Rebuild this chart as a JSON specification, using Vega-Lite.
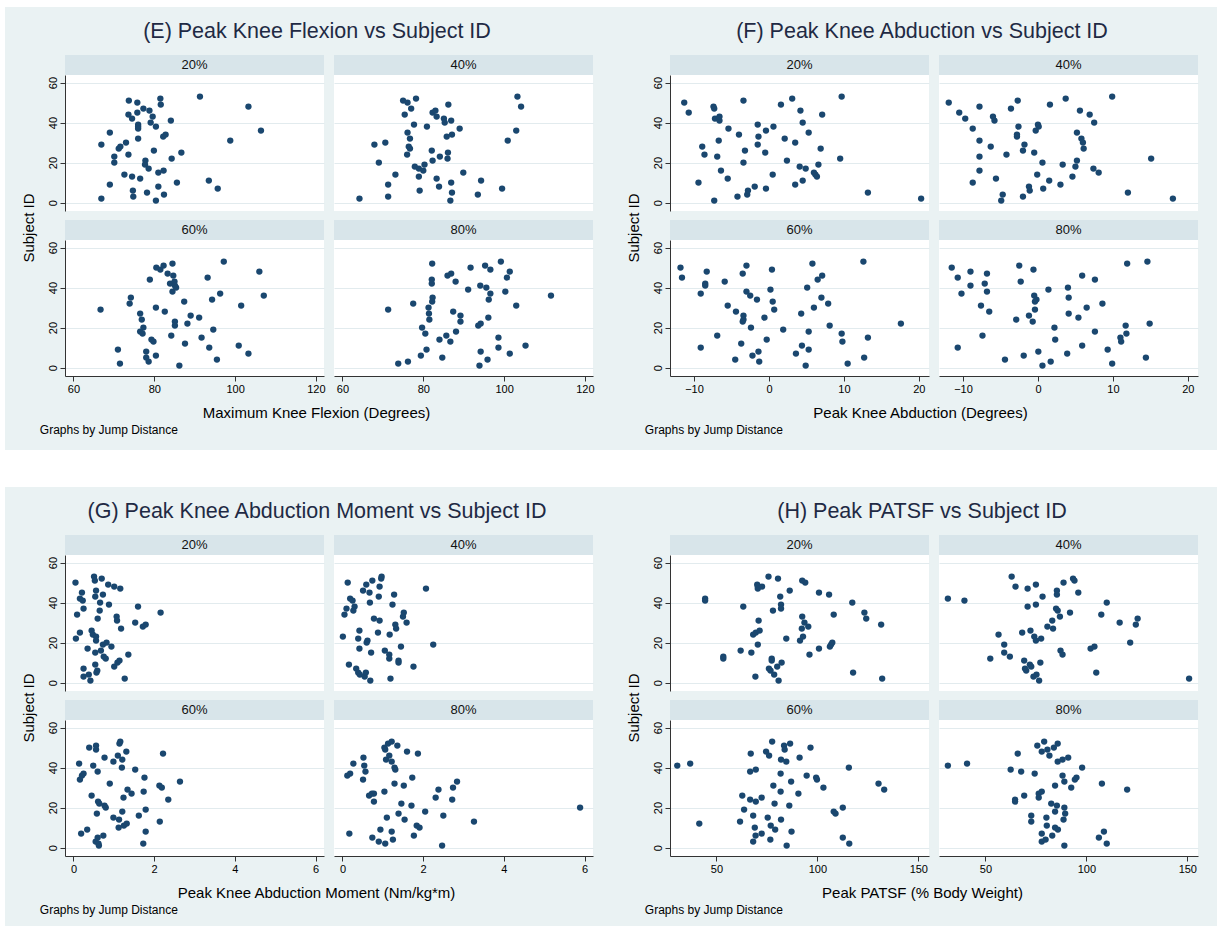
{
  "$schema": "https://vega.github.io/schema/vega-lite/v6.json",
  "background": "#EAF2F3",
  "padding": 0,
  "config": {
    "font": "Liberation Sans",
    "view": {"stroke": null},
    "axis": {
      "labelFont": "Liberation Sans", "labelFontSize": 11, "labelColor": "#000",
      "domainColor": "#333", "tickColor": "#333", "tickSize": 5, "labelPadding": 2,
      "gridColor": "#E2EBEE", "gridOpacity": 1, "titleFont": "Liberation Sans",
      "titleFontWeight": "normal", "titleColor": "#000", "labelFlush": false, "labelOverlap": false
    },
    "axisX": {"grid": false},
    "axisY": {"grid": true, "labelAngle": 270, "labelAlign": "center", "labelBaseline": "bottom"},
    "title": {"font": "Liberation Sans", "fontWeight": "normal", "color": "#1f2a44", "fontSize": 21.5}
  },
  "datasets": {
    "flex": [
      {"d":"20%","v":66.9,"id":2},{"d":"20%","v":66.9,"id":29},{"d":"20%","v":69.0,"id":35},{"d":"20%","v":70.1,"id":23},{"d":"20%","v":70.1,"id":20},{"d":"20%","v":69.0,"id":9},{"d":"20%","v":71.2,"id":27},{"d":"20%","v":71.6,"id":28},{"d":"20%","v":73.0,"id":30},{"d":"20%","v":73.6,"id":24},{"d":"20%","v":72.6,"id":14},{"d":"20%","v":73.7,"id":51},{"d":"20%","v":73.6,"id":44},{"d":"20%","v":74.5,"id":42},{"d":"20%","v":74.5,"id":13},{"d":"20%","v":74.7,"id":6},{"d":"20%","v":74.8,"id":3},{"d":"20%","v":75.8,"id":50},{"d":"20%","v":75.8,"id":45},{"d":"20%","v":76.0,"id":39},{"d":"20%","v":76.0,"id":38},{"d":"20%","v":76.0,"id":37},{"d":"20%","v":76.0,"id":32},{"d":"20%","v":76.5,"id":12},{"d":"20%","v":77.3,"id":47},{"d":"20%","v":77.8,"id":21},{"d":"20%","v":77.7,"id":19},{"d":"20%","v":78.6,"id":17},{"d":"20%","v":78.2,"id":5},{"d":"20%","v":78.8,"id":46},{"d":"20%","v":79.1,"id":40},{"d":"20%","v":79.6,"id":43},{"d":"20%","v":79.9,"id":26},{"d":"20%","v":80.4,"id":38},{"d":"20%","v":80.4,"id":1},{"d":"20%","v":81.0,"id":8},{"d":"20%","v":81.0,"id":15},{"d":"20%","v":81.5,"id":52},{"d":"20%","v":81.6,"id":49},{"d":"20%","v":82.3,"id":16},{"d":"20%","v":82.2,"id":33},{"d":"20%","v":82.8,"id":34},{"d":"20%","v":82.4,"id":4},{"d":"20%","v":84.1,"id":41},{"d":"20%","v":84.3,"id":22},{"d":"20%","v":85.6,"id":10},{"d":"20%","v":86.7,"id":25},{"d":"20%","v":91.3,"id":53},{"d":"20%","v":93.5,"id":11},{"d":"20%","v":95.7,"id":7},{"d":"20%","v":98.8,"id":31},{"d":"20%","v":103.3,"id":48},{"d":"20%","v":106.4,"id":36},
      {"d":"40%","v":64.2,"id":2},{"d":"40%","v":67.9,"id":29},{"d":"40%","v":69.0,"id":20},{"d":"40%","v":70.6,"id":30},{"d":"40%","v":71.3,"id":9},{"d":"40%","v":71.3,"id":3},{"d":"40%","v":73.1,"id":14},{"d":"40%","v":75.0,"id":51},{"d":"40%","v":76.1,"id":50},{"d":"40%","v":75.4,"id":44},{"d":"40%","v":77.0,"id":47},{"d":"40%","v":78.2,"id":52},{"d":"40%","v":76.1,"id":35},{"d":"40%","v":76.7,"id":32},{"d":"40%","v":76.4,"id":28},{"d":"40%","v":76.7,"id":27},{"d":"40%","v":76.0,"id":24},{"d":"40%","v":77.7,"id":39},{"d":"40%","v":77.9,"id":18},{"d":"40%","v":78.9,"id":17},{"d":"40%","v":78.9,"id":13},{"d":"40%","v":79.1,"id":6},{"d":"40%","v":80.0,"id":16},{"d":"40%","v":80.3,"id":19},{"d":"40%","v":80.9,"id":38},{"d":"40%","v":82.1,"id":26},{"d":"40%","v":82.3,"id":21},{"d":"40%","v":82.3,"id":45},{"d":"40%","v":83.0,"id":46},{"d":"40%","v":83.3,"id":43},{"d":"40%","v":83.3,"id":12},{"d":"40%","v":84.1,"id":23},{"d":"40%","v":83.9,"id":8},{"d":"40%","v":85.1,"id":42},{"d":"40%","v":85.3,"id":40},{"d":"40%","v":85.8,"id":33},{"d":"40%","v":86.2,"id":49},{"d":"40%","v":86.1,"id":25},{"d":"40%","v":86.0,"id":22},{"d":"40%","v":86.9,"id":41},{"d":"40%","v":87.1,"id":34},{"d":"40%","v":86.9,"id":10},{"d":"40%","v":87.1,"id":5},{"d":"40%","v":86.7,"id":1},{"d":"40%","v":89.0,"id":37},{"d":"40%","v":89.9,"id":15},{"d":"40%","v":93.5,"id":4},{"d":"40%","v":94.3,"id":11},{"d":"40%","v":99.5,"id":7},{"d":"40%","v":100.9,"id":31},{"d":"40%","v":103.0,"id":36},{"d":"40%","v":103.3,"id":53},{"d":"40%","v":104.2,"id":48},
      {"d":"60%","v":66.7,"id":29},{"d":"60%","v":71.0,"id":9},{"d":"60%","v":71.5,"id":2},{"d":"60%","v":74.2,"id":35},{"d":"60%","v":73.9,"id":32},{"d":"60%","v":76.5,"id":27},{"d":"60%","v":76.9,"id":24},{"d":"60%","v":77.3,"id":20},{"d":"60%","v":76.5,"id":18},{"d":"60%","v":77.1,"id":17},{"d":"60%","v":78.0,"id":8},{"d":"60%","v":78.0,"id":5},{"d":"60%","v":78.6,"id":3},{"d":"60%","v":78.9,"id":44},{"d":"60%","v":79.3,"id":14},{"d":"60%","v":79.8,"id":13},{"d":"60%","v":80.4,"id":30},{"d":"60%","v":80.5,"id":50},{"d":"60%","v":81.5,"id":49},{"d":"60%","v":82.3,"id":51},{"d":"60%","v":80.4,"id":6},{"d":"60%","v":82.6,"id":28},{"d":"60%","v":83.3,"id":47},{"d":"60%","v":83.9,"id":42},{"d":"60%","v":84.2,"id":16},{"d":"60%","v":84.5,"id":52},{"d":"60%","v":84.7,"id":46},{"d":"60%","v":85.0,"id":43},{"d":"60%","v":84.5,"id":38},{"d":"60%","v":85.1,"id":41},{"d":"60%","v":85.4,"id":40},{"d":"60%","v":85.1,"id":23},{"d":"60%","v":85.1,"id":21},{"d":"60%","v":86.2,"id":1},{"d":"60%","v":87.4,"id":33},{"d":"60%","v":87.6,"id":12},{"d":"60%","v":88.2,"id":22},{"d":"60%","v":89.0,"id":26},{"d":"60%","v":91.1,"id":25},{"d":"60%","v":91.7,"id":15},{"d":"60%","v":93.2,"id":45},{"d":"60%","v":93.6,"id":10},{"d":"60%","v":94.3,"id":34},{"d":"60%","v":94.6,"id":19},{"d":"60%","v":95.5,"id":4},{"d":"60%","v":96.3,"id":37},{"d":"60%","v":97.2,"id":53},{"d":"60%","v":100.9,"id":11},{"d":"60%","v":101.5,"id":31},{"d":"60%","v":103.3,"id":7},{"d":"60%","v":106.0,"id":48},{"d":"60%","v":107.1,"id":36},
      {"d":"80%","v":71.3,"id":29},{"d":"80%","v":73.8,"id":2},{"d":"80%","v":76.2,"id":3},{"d":"80%","v":77.5,"id":32},{"d":"80%","v":79.4,"id":6},{"d":"80%","v":79.7,"id":20},{"d":"80%","v":80.5,"id":17},{"d":"80%","v":80.8,"id":9},{"d":"80%","v":81.3,"id":30},{"d":"80%","v":81.4,"id":27},{"d":"80%","v":81.5,"id":24},{"d":"80%","v":82.2,"id":52},{"d":"80%","v":82.1,"id":44},{"d":"80%","v":82.1,"id":42},{"d":"80%","v":82.3,"id":35},{"d":"80%","v":82.2,"id":33},{"d":"80%","v":84.0,"id":14},{"d":"80%","v":84.7,"id":5},{"d":"80%","v":85.7,"id":16},{"d":"80%","v":86.0,"id":46},{"d":"80%","v":86.9,"id":47},{"d":"80%","v":86.7,"id":13},{"d":"80%","v":87.4,"id":28},{"d":"80%","v":88.0,"id":43},{"d":"80%","v":88.1,"id":18},{"d":"80%","v":89.2,"id":26},{"d":"80%","v":89.2,"id":23},{"d":"80%","v":91.7,"id":50},{"d":"80%","v":91.1,"id":39},{"d":"80%","v":93.6,"id":21},{"d":"80%","v":94.1,"id":41},{"d":"80%","v":94.2,"id":22},{"d":"80%","v":94.2,"id":8},{"d":"80%","v":93.9,"id":1},{"d":"80%","v":95.3,"id":51},{"d":"80%","v":95.6,"id":40},{"d":"80%","v":95.9,"id":4},{"d":"80%","v":96.1,"id":25},{"d":"80%","v":96.2,"id":34},{"d":"80%","v":96.6,"id":37},{"d":"80%","v":96.6,"id":49},{"d":"80%","v":98.6,"id":15},{"d":"80%","v":98.6,"id":10},{"d":"80%","v":99.2,"id":53},{"d":"80%","v":100.3,"id":38},{"d":"80%","v":100.7,"id":45},{"d":"80%","v":101.4,"id":48},{"d":"80%","v":101.4,"id":7},{"d":"80%","v":103.0,"id":31},{"d":"80%","v":105.3,"id":11},{"d":"80%","v":111.6,"id":36}
    ],
    "abd": [
      {"d":"20%","v":-11.3,"id":50},{"d":"20%","v":-10.7,"id":45},{"d":"20%","v":-9.4,"id":10},{"d":"20%","v":-8.9,"id":28},{"d":"20%","v":-8.6,"id":24},{"d":"20%","v":-7.4,"id":48},{"d":"20%","v":-7.3,"id":47},{"d":"20%","v":-7.2,"id":42},{"d":"20%","v":-6.7,"id":42},{"d":"20%","v":-6.6,"id":41},{"d":"20%","v":-7.3,"id":1},{"d":"20%","v":-6.9,"id":23},{"d":"20%","v":-6.7,"id":31},{"d":"20%","v":-6.6,"id":43},{"d":"20%","v":-6.4,"id":16},{"d":"20%","v":-5.5,"id":12},{"d":"20%","v":-5.4,"id":37},{"d":"20%","v":-4.2,"id":3},{"d":"20%","v":-4.0,"id":34},{"d":"20%","v":-3.4,"id":51},{"d":"20%","v":-3.4,"id":20},{"d":"20%","v":-3.2,"id":26},{"d":"20%","v":-2.9,"id":4},{"d":"20%","v":-2.8,"id":6},{"d":"20%","v":-1.9,"id":8},{"d":"20%","v":-1.5,"id":39},{"d":"20%","v":-1.5,"id":29},{"d":"20%","v":-1.4,"id":33},{"d":"20%","v":-0.5,"id":25},{"d":"20%","v":-0.4,"id":7},{"d":"20%","v":-0.4,"id":36},{"d":"20%","v":0.6,"id":38},{"d":"20%","v":0.5,"id":14},{"d":"20%","v":1.6,"id":49},{"d":"20%","v":2.1,"id":32},{"d":"20%","v":2.4,"id":21},{"d":"20%","v":3.1,"id":52},{"d":"20%","v":3.5,"id":30},{"d":"20%","v":3.5,"id":9},{"d":"20%","v":4.1,"id":18},{"d":"20%","v":4.2,"id":46},{"d":"20%","v":4.5,"id":40},{"d":"20%","v":4.5,"id":11},{"d":"20%","v":4.9,"id":17},{"d":"20%","v":5.3,"id":35},{"d":"20%","v":6.0,"id":15},{"d":"20%","v":6.2,"id":14},{"d":"20%","v":6.4,"id":13},{"d":"20%","v":6.6,"id":19},{"d":"20%","v":6.9,"id":27},{"d":"20%","v":7.1,"id":44},{"d":"20%","v":9.5,"id":22},{"d":"20%","v":9.7,"id":53},{"d":"20%","v":13.2,"id":5},{"d":"20%","v":20.3,"id":2},
      {"d":"40%","v":-11.9,"id":50},{"d":"40%","v":-10.5,"id":45},{"d":"40%","v":-9.7,"id":42},{"d":"40%","v":-8.7,"id":37},{"d":"40%","v":-8.7,"id":10},{"d":"40%","v":-7.8,"id":48},{"d":"40%","v":-7.8,"id":31},{"d":"40%","v":-7.8,"id":23},{"d":"40%","v":-7.8,"id":16},{"d":"40%","v":-6.3,"id":28},{"d":"40%","v":-6.0,"id":43},{"d":"40%","v":-5.8,"id":41},{"d":"40%","v":-5.6,"id":12},{"d":"40%","v":-4.7,"id":4},{"d":"40%","v":-4.9,"id":1},{"d":"40%","v":-4.2,"id":24},{"d":"40%","v":-3.6,"id":47},{"d":"40%","v":-2.7,"id":51},{"d":"40%","v":-2.8,"id":33},{"d":"40%","v":-2.8,"id":34},{"d":"40%","v":-2.6,"id":38},{"d":"40%","v":-2.0,"id":3},{"d":"40%","v":-2.0,"id":26},{"d":"40%","v":-1.8,"id":29},{"d":"40%","v":-1.2,"id":8},{"d":"40%","v":-1.1,"id":6},{"d":"40%","v":-0.5,"id":25},{"d":"40%","v":-0.3,"id":36},{"d":"40%","v":0.0,"id":39},{"d":"40%","v":0.1,"id":38},{"d":"40%","v":-0.1,"id":14},{"d":"40%","v":0.6,"id":20},{"d":"40%","v":0.7,"id":7},{"d":"40%","v":1.5,"id":11},{"d":"40%","v":1.6,"id":49},{"d":"40%","v":3.0,"id":9},{"d":"40%","v":3.3,"id":19},{"d":"40%","v":3.7,"id":52},{"d":"40%","v":4.6,"id":13},{"d":"40%","v":5.0,"id":18},{"d":"40%","v":5.2,"id":21},{"d":"40%","v":5.2,"id":35},{"d":"40%","v":5.6,"id":46},{"d":"40%","v":5.8,"id":32},{"d":"40%","v":6.0,"id":30},{"d":"40%","v":6.1,"id":27},{"d":"40%","v":6.9,"id":44},{"d":"40%","v":7.5,"id":40},{"d":"40%","v":7.4,"id":17},{"d":"40%","v":8.1,"id":15},{"d":"40%","v":9.9,"id":53},{"d":"40%","v":12.0,"id":5},{"d":"40%","v":15.1,"id":22},{"d":"40%","v":18.0,"id":2},
      {"d":"60%","v":-11.8,"id":50},{"d":"60%","v":-11.6,"id":45},{"d":"60%","v":-9.1,"id":10},{"d":"60%","v":-9.1,"id":37},{"d":"60%","v":-8.5,"id":42},{"d":"60%","v":-8.5,"id":41},{"d":"60%","v":-8.3,"id":48},{"d":"60%","v":-6.9,"id":16},{"d":"60%","v":-5.9,"id":43},{"d":"60%","v":-5.5,"id":31},{"d":"60%","v":-4.5,"id":4},{"d":"60%","v":-4.4,"id":28},{"d":"60%","v":-3.7,"id":12},{"d":"60%","v":-3.5,"id":47},{"d":"60%","v":-3.4,"id":26},{"d":"60%","v":-3.4,"id":24},{"d":"60%","v":-3.5,"id":23},{"d":"60%","v":-3.0,"id":51},{"d":"60%","v":-3.0,"id":38},{"d":"60%","v":-2.5,"id":36},{"d":"60%","v":-2.4,"id":20},{"d":"60%","v":-2.2,"id":6},{"d":"60%","v":-1.6,"id":34},{"d":"60%","v":-1.4,"id":8},{"d":"60%","v":-1.3,"id":3},{"d":"60%","v":-0.6,"id":25},{"d":"60%","v":-0.3,"id":14},{"d":"60%","v":0.2,"id":39},{"d":"60%","v":0.4,"id":49},{"d":"60%","v":0.5,"id":33},{"d":"60%","v":0.7,"id":29},{"d":"60%","v":1.9,"id":19},{"d":"60%","v":3.6,"id":7},{"d":"60%","v":4.3,"id":27},{"d":"60%","v":4.4,"id":11},{"d":"60%","v":4.9,"id":1},{"d":"60%","v":5.1,"id":40},{"d":"60%","v":5.3,"id":18},{"d":"60%","v":5.3,"id":9},{"d":"60%","v":5.8,"id":52},{"d":"60%","v":6.0,"id":30},{"d":"60%","v":6.5,"id":44},{"d":"60%","v":7.1,"id":46},{"d":"60%","v":7.0,"id":35},{"d":"60%","v":7.9,"id":32},{"d":"60%","v":8.1,"id":21},{"d":"60%","v":9.7,"id":17},{"d":"60%","v":9.8,"id":13},{"d":"60%","v":10.5,"id":2},{"d":"60%","v":12.6,"id":53},{"d":"60%","v":12.7,"id":5},{"d":"60%","v":13.2,"id":15},{"d":"60%","v":17.6,"id":22},
      {"d":"80%","v":-11.5,"id":50},{"d":"80%","v":-10.7,"id":45},{"d":"80%","v":-10.7,"id":10},{"d":"80%","v":-10.2,"id":37},{"d":"80%","v":-9.0,"id":48},{"d":"80%","v":-9.0,"id":41},{"d":"80%","v":-7.6,"id":31},{"d":"80%","v":-7.4,"id":16},{"d":"80%","v":-7.1,"id":42},{"d":"80%","v":-6.8,"id":47},{"d":"80%","v":-6.8,"id":38},{"d":"80%","v":-6.5,"id":28},{"d":"80%","v":-4.4,"id":4},{"d":"80%","v":-2.9,"id":24},{"d":"80%","v":-2.5,"id":51},{"d":"80%","v":-2.3,"id":43},{"d":"80%","v":-1.9,"id":6},{"d":"80%","v":-1.2,"id":26},{"d":"80%","v":-0.7,"id":23},{"d":"80%","v":-0.6,"id":49},{"d":"80%","v":-0.4,"id":29},{"d":"80%","v":0.05,"id":8},{"d":"80%","v":0.6,"id":1},{"d":"80%","v":-0.5,"id":36},{"d":"80%","v":-0.2,"id":34},{"d":"80%","v":-0.4,"id":33},{"d":"80%","v":1.4,"id":39},{"d":"80%","v":1.7,"id":3},{"d":"80%","v":2.2,"id":20},{"d":"80%","v":2.3,"id":14},{"d":"80%","v":4.0,"id":40},{"d":"80%","v":4.1,"id":35},{"d":"80%","v":4.1,"id":27},{"d":"80%","v":3.9,"id":7},{"d":"80%","v":5.4,"id":25},{"d":"80%","v":5.9,"id":11},{"d":"80%","v":5.9,"id":46},{"d":"80%","v":6.5,"id":30},{"d":"80%","v":7.6,"id":44},{"d":"80%","v":7.6,"id":18},{"d":"80%","v":8.6,"id":32},{"d":"80%","v":9.3,"id":9},{"d":"80%","v":9.9,"id":2},{"d":"80%","v":11.0,"id":15},{"d":"80%","v":11.1,"id":13},{"d":"80%","v":11.7,"id":21},{"d":"80%","v":11.8,"id":17},{"d":"80%","v":11.9,"id":52},{"d":"80%","v":14.4,"id":5},{"d":"80%","v":14.6,"id":53},{"d":"80%","v":14.9,"id":22}
    ],
    "mom": [
      {"d":"20%","v":0.05,"id":50},{"d":"20%","v":0.06,"id":22},{"d":"20%","v":0.09,"id":34},{"d":"20%","v":0.16,"id":25},{"d":"20%","v":0.16,"id":42},{"d":"20%","v":0.21,"id":45},{"d":"20%","v":0.23,"id":41},{"d":"20%","v":0.25,"id":37},{"d":"20%","v":0.25,"id":7},{"d":"20%","v":0.25,"id":3},{"d":"20%","v":0.35,"id":17},{"d":"20%","v":0.38,"id":4},{"d":"20%","v":0.42,"id":1},{"d":"20%","v":0.45,"id":26},{"d":"20%","v":0.48,"id":24},{"d":"20%","v":0.51,"id":53},{"d":"20%","v":0.53,"id":51},{"d":"20%","v":0.54,"id":43},{"d":"20%","v":0.56,"id":46},{"d":"20%","v":0.56,"id":23},{"d":"20%","v":0.56,"id":21},{"d":"20%","v":0.54,"id":15},{"d":"20%","v":0.54,"id":9},{"d":"20%","v":0.57,"id":5},{"d":"20%","v":0.59,"id":6},{"d":"20%","v":0.6,"id":32},{"d":"20%","v":0.65,"id":36},{"d":"20%","v":0.66,"id":40},{"d":"20%","v":0.7,"id":52},{"d":"20%","v":0.68,"id":16},{"d":"20%","v":0.73,"id":44},{"d":"20%","v":0.73,"id":19},{"d":"20%","v":0.75,"id":13},{"d":"20%","v":0.8,"id":12},{"d":"20%","v":0.82,"id":20},{"d":"20%","v":0.86,"id":49},{"d":"20%","v":0.88,"id":39},{"d":"20%","v":0.94,"id":18},{"d":"20%","v":1.01,"id":48},{"d":"20%","v":1.01,"id":8},{"d":"20%","v":1.07,"id":33},{"d":"20%","v":1.08,"id":31},{"d":"20%","v":1.09,"id":10},{"d":"20%","v":1.14,"id":11},{"d":"20%","v":1.16,"id":47},{"d":"20%","v":1.18,"id":27},{"d":"20%","v":1.27,"id":2},{"d":"20%","v":1.36,"id":14},{"d":"20%","v":1.53,"id":30},{"d":"20%","v":1.6,"id":38},{"d":"20%","v":1.72,"id":28},{"d":"20%","v":1.79,"id":29},{"d":"20%","v":2.16,"id":35},
      {"d":"40%","v":0.01,"id":23},{"d":"40%","v":0.05,"id":34},{"d":"40%","v":0.1,"id":37},{"d":"40%","v":0.13,"id":50},{"d":"40%","v":0.16,"id":9},{"d":"40%","v":0.19,"id":42},{"d":"40%","v":0.25,"id":41},{"d":"40%","v":0.3,"id":38},{"d":"40%","v":0.27,"id":36},{"d":"40%","v":0.34,"id":7},{"d":"40%","v":0.39,"id":5},{"d":"40%","v":0.42,"id":26},{"d":"40%","v":0.39,"id":22},{"d":"40%","v":0.42,"id":17},{"d":"40%","v":0.43,"id":4},{"d":"40%","v":0.51,"id":46},{"d":"40%","v":0.55,"id":3},{"d":"40%","v":0.58,"id":5},{"d":"40%","v":0.59,"id":49},{"d":"40%","v":0.62,"id":21},{"d":"40%","v":0.6,"id":20},{"d":"40%","v":0.67,"id":45},{"d":"40%","v":0.68,"id":40},{"d":"40%","v":0.69,"id":1},{"d":"40%","v":0.71,"id":15},{"d":"40%","v":0.74,"id":51},{"d":"40%","v":0.78,"id":32},{"d":"40%","v":0.88,"id":25},{"d":"40%","v":0.9,"id":43},{"d":"40%","v":0.92,"id":48},{"d":"40%","v":0.92,"id":31},{"d":"40%","v":0.96,"id":52},{"d":"40%","v":0.97,"id":53},{"d":"40%","v":1.05,"id":16},{"d":"40%","v":1.16,"id":14},{"d":"40%","v":1.16,"id":12},{"d":"40%","v":1.17,"id":24},{"d":"40%","v":1.19,"id":2},{"d":"40%","v":1.24,"id":39},{"d":"40%","v":1.28,"id":44},{"d":"40%","v":1.31,"id":29},{"d":"40%","v":1.33,"id":27},{"d":"40%","v":1.39,"id":11},{"d":"40%","v":1.39,"id":10},{"d":"40%","v":1.45,"id":18},{"d":"40%","v":1.52,"id":35},{"d":"40%","v":1.5,"id":33},{"d":"40%","v":1.59,"id":30},{"d":"40%","v":1.76,"id":8},{"d":"40%","v":2.07,"id":47},{"d":"40%","v":2.25,"id":19},
      {"d":"60%","v":0.14,"id":42},{"d":"60%","v":0.16,"id":34},{"d":"60%","v":0.21,"id":36},{"d":"60%","v":0.25,"id":37},{"d":"60%","v":0.19,"id":7},{"d":"60%","v":0.34,"id":9},{"d":"60%","v":0.39,"id":50},{"d":"60%","v":0.45,"id":26},{"d":"60%","v":0.49,"id":41},{"d":"60%","v":0.56,"id":51},{"d":"60%","v":0.56,"id":49},{"d":"60%","v":0.58,"id":17},{"d":"60%","v":0.55,"id":3},{"d":"60%","v":0.6,"id":5},{"d":"60%","v":0.6,"id":38},{"d":"60%","v":0.61,"id":23},{"d":"60%","v":0.64,"id":22},{"d":"60%","v":0.63,"id":1},{"d":"60%","v":0.62,"id":2},{"d":"60%","v":0.74,"id":6},{"d":"60%","v":0.77,"id":45},{"d":"60%","v":0.77,"id":21},{"d":"60%","v":0.8,"id":20},{"d":"60%","v":0.9,"id":32},{"d":"60%","v":0.99,"id":43},{"d":"60%","v":0.99,"id":15},{"d":"60%","v":1.1,"id":46},{"d":"60%","v":1.13,"id":14},{"d":"60%","v":1.14,"id":52},{"d":"60%","v":1.16,"id":53},{"d":"60%","v":1.12,"id":10},{"d":"60%","v":1.2,"id":40},{"d":"60%","v":1.21,"id":44},{"d":"60%","v":1.21,"id":18},{"d":"60%","v":1.24,"id":25},{"d":"60%","v":1.25,"id":11},{"d":"60%","v":1.32,"id":12},{"d":"60%","v":1.31,"id":48},{"d":"60%","v":1.34,"id":29},{"d":"60%","v":1.44,"id":27},{"d":"60%","v":1.53,"id":39},{"d":"60%","v":1.62,"id":16},{"d":"60%","v":1.73,"id":2},{"d":"60%","v":1.76,"id":35},{"d":"60%","v":1.74,"id":28},{"d":"60%","v":1.79,"id":19},{"d":"60%","v":1.79,"id":8},{"d":"60%","v":2.13,"id":31},{"d":"60%","v":2.19,"id":30},{"d":"60%","v":2.14,"id":13},{"d":"60%","v":2.22,"id":47},{"d":"60%","v":2.35,"id":24},{"d":"60%","v":2.64,"id":33},
      {"d":"80%","v":0.12,"id":36},{"d":"80%","v":0.19,"id":37},{"d":"80%","v":0.17,"id":7},{"d":"80%","v":0.27,"id":42},{"d":"80%","v":0.51,"id":34},{"d":"80%","v":0.52,"id":45},{"d":"80%","v":0.54,"id":41},{"d":"80%","v":0.57,"id":38},{"d":"80%","v":0.66,"id":26},{"d":"80%","v":0.73,"id":27},{"d":"80%","v":0.78,"id":27},{"d":"80%","v":0.78,"id":23},{"d":"80%","v":0.74,"id":5},{"d":"80%","v":0.9,"id":3},{"d":"80%","v":0.94,"id":9},{"d":"80%","v":1.04,"id":28},{"d":"80%","v":1.06,"id":2},{"d":"80%","v":1.04,"id":50},{"d":"80%","v":1.06,"id":49},{"d":"80%","v":1.08,"id":44},{"d":"80%","v":1.13,"id":52},{"d":"80%","v":1.1,"id":15},{"d":"80%","v":1.16,"id":46},{"d":"80%","v":1.22,"id":53},{"d":"80%","v":1.22,"id":8},{"d":"80%","v":1.22,"id":43},{"d":"80%","v":1.25,"id":4},{"d":"80%","v":1.31,"id":39},{"d":"80%","v":1.29,"id":40},{"d":"80%","v":1.29,"id":32},{"d":"80%","v":1.36,"id":51},{"d":"80%","v":1.39,"id":17},{"d":"80%","v":1.46,"id":22},{"d":"80%","v":1.52,"id":31},{"d":"80%","v":1.54,"id":14},{"d":"80%","v":1.6,"id":48},{"d":"80%","v":1.71,"id":21},{"d":"80%","v":1.73,"id":35},{"d":"80%","v":1.77,"id":6},{"d":"80%","v":1.84,"id":11},{"d":"80%","v":1.87,"id":47},{"d":"80%","v":1.91,"id":10},{"d":"80%","v":2.05,"id":18},{"d":"80%","v":2.31,"id":25},{"d":"80%","v":2.38,"id":29},{"d":"80%","v":2.47,"id":1},{"d":"80%","v":2.5,"id":16},{"d":"80%","v":2.72,"id":24},{"d":"80%","v":2.74,"id":30},{"d":"80%","v":2.84,"id":33},{"d":"80%","v":3.26,"id":13},{"d":"80%","v":5.89,"id":20}
    ],
    "patsf": [
      {"d":"20%","v":44.4,"id":42},{"d":"20%","v":44.4,"id":41},{"d":"20%","v":53.4,"id":13},{"d":"20%","v":53.4,"id":12},{"d":"20%","v":62.0,"id":16},{"d":"20%","v":63.3,"id":38},{"d":"20%","v":67.3,"id":15},{"d":"20%","v":68.2,"id":24},{"d":"20%","v":69.3,"id":3},{"d":"20%","v":69.5,"id":25},{"d":"20%","v":70.2,"id":49},{"d":"20%","v":70.5,"id":19},{"d":"20%","v":70.5,"id":48},{"d":"20%","v":70.5,"id":47},{"d":"20%","v":70.9,"id":31},{"d":"20%","v":71.4,"id":26},{"d":"20%","v":72.6,"id":48},{"d":"20%","v":75.8,"id":53},{"d":"20%","v":76.0,"id":7},{"d":"20%","v":76.8,"id":6},{"d":"20%","v":77.4,"id":12},{"d":"20%","v":77.4,"id":11},{"d":"20%","v":78.0,"id":36},{"d":"20%","v":78.6,"id":4},{"d":"20%","v":80.1,"id":8},{"d":"20%","v":80.5,"id":52},{"d":"20%","v":80.8,"id":1},{"d":"20%","v":81.6,"id":43},{"d":"20%","v":82.0,"id":39},{"d":"20%","v":82.0,"id":37},{"d":"20%","v":82.3,"id":10},{"d":"20%","v":84.6,"id":22},{"d":"20%","v":86.3,"id":46},{"d":"20%","v":91.4,"id":21},{"d":"20%","v":92.3,"id":27},{"d":"20%","v":92.5,"id":33},{"d":"20%","v":92.9,"id":23},{"d":"20%","v":92.5,"id":51},{"d":"20%","v":94.0,"id":50},{"d":"20%","v":93.6,"id":30},{"d":"20%","v":95.5,"id":28},{"d":"20%","v":96.1,"id":14},{"d":"20%","v":100.8,"id":17},{"d":"20%","v":100.8,"id":45},{"d":"20%","v":105.8,"id":44},{"d":"20%","v":106.2,"id":18},{"d":"20%","v":106.8,"id":19},{"d":"20%","v":107.4,"id":20},{"d":"20%","v":108.1,"id":34},{"d":"20%","v":117.3,"id":40},{"d":"20%","v":117.7,"id":5},{"d":"20%","v":123.3,"id":35},{"d":"20%","v":124.2,"id":32},{"d":"20%","v":131.6,"id":29},{"d":"20%","v":132.1,"id":2},
      {"d":"40%","v":31.4,"id":42},{"d":"40%","v":39.6,"id":41},{"d":"40%","v":52.4,"id":12},{"d":"40%","v":56.5,"id":24},{"d":"40%","v":59.3,"id":19},{"d":"40%","v":59.3,"id":15},{"d":"40%","v":62.1,"id":13},{"d":"40%","v":63.0,"id":53},{"d":"40%","v":64.9,"id":48},{"d":"40%","v":68.2,"id":25},{"d":"40%","v":69.2,"id":11},{"d":"40%","v":69.6,"id":7},{"d":"40%","v":70.2,"id":6},{"d":"40%","v":70.9,"id":38},{"d":"40%","v":70.9,"id":47},{"d":"40%","v":72.0,"id":9},{"d":"40%","v":72.3,"id":26},{"d":"40%","v":72.7,"id":8},{"d":"40%","v":73.8,"id":3},{"d":"40%","v":74.2,"id":23},{"d":"40%","v":75.0,"id":39},{"d":"40%","v":75.0,"id":49},{"d":"40%","v":75.0,"id":21},{"d":"40%","v":75.3,"id":4},{"d":"40%","v":76.6,"id":1},{"d":"40%","v":77.2,"id":10},{"d":"40%","v":77.6,"id":22},{"d":"40%","v":78.3,"id":43},{"d":"40%","v":80.7,"id":28},{"d":"40%","v":83.1,"id":31},{"d":"40%","v":83.5,"id":27},{"d":"40%","v":85.0,"id":37},{"d":"40%","v":85.4,"id":46},{"d":"40%","v":85.4,"id":44},{"d":"40%","v":85.8,"id":36},{"d":"40%","v":86.9,"id":33},{"d":"40%","v":87.2,"id":16},{"d":"40%","v":88.2,"id":14},{"d":"40%","v":88.7,"id":50},{"d":"40%","v":91.9,"id":35},{"d":"40%","v":93.4,"id":52},{"d":"40%","v":94.1,"id":51},{"d":"40%","v":96.0,"id":45},{"d":"40%","v":102.1,"id":17},{"d":"40%","v":104.0,"id":18},{"d":"40%","v":104.9,"id":5},{"d":"40%","v":107.4,"id":34},{"d":"40%","v":110.1,"id":40},{"d":"40%","v":116.5,"id":30},{"d":"40%","v":121.7,"id":20},{"d":"40%","v":124.5,"id":29},{"d":"40%","v":125.4,"id":32},{"d":"40%","v":150.9,"id":2},
      {"d":"60%","v":30.6,"id":41},{"d":"60%","v":37.0,"id":42},{"d":"60%","v":41.5,"id":12},{"d":"60%","v":61.7,"id":13},{"d":"60%","v":62.8,"id":26},{"d":"60%","v":63.7,"id":19},{"d":"60%","v":66.7,"id":24},{"d":"60%","v":67.0,"id":47},{"d":"60%","v":66.7,"id":38},{"d":"60%","v":68.2,"id":16},{"d":"60%","v":68.2,"id":3},{"d":"60%","v":69.0,"id":10},{"d":"60%","v":69.5,"id":39},{"d":"60%","v":69.5,"id":23},{"d":"60%","v":69.4,"id":6},{"d":"60%","v":72.4,"id":7},{"d":"60%","v":72.4,"id":25},{"d":"60%","v":74.6,"id":48},{"d":"60%","v":75.4,"id":15},{"d":"60%","v":76.1,"id":46},{"d":"60%","v":76.7,"id":4},{"d":"60%","v":76.9,"id":11},{"d":"60%","v":77.6,"id":53},{"d":"60%","v":78.2,"id":31},{"d":"60%","v":78.8,"id":22},{"d":"60%","v":79.1,"id":9},{"d":"60%","v":82.0,"id":44},{"d":"60%","v":81.8,"id":28},{"d":"60%","v":81.8,"id":37},{"d":"60%","v":82.0,"id":14},{"d":"60%","v":83.5,"id":51},{"d":"60%","v":83.8,"id":49},{"d":"60%","v":84.6,"id":43},{"d":"60%","v":84.8,"id":1},{"d":"60%","v":86.5,"id":52},{"d":"60%","v":86.1,"id":21},{"d":"60%","v":87.0,"id":33},{"d":"60%","v":87.2,"id":8},{"d":"60%","v":90.6,"id":27},{"d":"60%","v":91.2,"id":45},{"d":"60%","v":94.7,"id":36},{"d":"60%","v":96.6,"id":50},{"d":"60%","v":99.4,"id":35},{"d":"60%","v":99.8,"id":34},{"d":"60%","v":103.0,"id":30},{"d":"60%","v":108.1,"id":18},{"d":"60%","v":109.0,"id":17},{"d":"60%","v":112.6,"id":20},{"d":"60%","v":112.6,"id":5},{"d":"60%","v":115.6,"id":40},{"d":"60%","v":115.8,"id":2},{"d":"60%","v":130.3,"id":32},{"d":"60%","v":133.1,"id":29},
      {"d":"80%","v":31.4,"id":41},{"d":"80%","v":40.9,"id":42},{"d":"80%","v":62.5,"id":39},{"d":"80%","v":64.7,"id":24},{"d":"80%","v":64.7,"id":23},{"d":"80%","v":66.0,"id":47},{"d":"80%","v":67.7,"id":38},{"d":"80%","v":69.2,"id":26},{"d":"80%","v":72.7,"id":16},{"d":"80%","v":72.7,"id":13},{"d":"80%","v":74.4,"id":37},{"d":"80%","v":75.7,"id":51},{"d":"80%","v":76.4,"id":27},{"d":"80%","v":76.4,"id":25},{"d":"80%","v":77.9,"id":28},{"d":"80%","v":77.9,"id":48},{"d":"80%","v":77.9,"id":7},{"d":"80%","v":77.9,"id":3},{"d":"80%","v":79.1,"id":53},{"d":"80%","v":79.8,"id":4},{"d":"80%","v":80.2,"id":15},{"d":"80%","v":80.4,"id":11},{"d":"80%","v":80.7,"id":49},{"d":"80%","v":81.7,"id":46},{"d":"80%","v":82.6,"id":22},{"d":"80%","v":83.1,"id":6},{"d":"80%","v":83.9,"id":50},{"d":"80%","v":84.5,"id":31},{"d":"80%","v":84.5,"id":18},{"d":"80%","v":84.5,"id":10},{"d":"80%","v":85.4,"id":21},{"d":"80%","v":85.9,"id":9},{"d":"80%","v":85.8,"id":52},{"d":"80%","v":85.8,"id":43},{"d":"80%","v":88.2,"id":44},{"d":"80%","v":88.2,"id":36},{"d":"80%","v":89.1,"id":33},{"d":"80%","v":88.7,"id":14},{"d":"80%","v":89.1,"id":1},{"d":"80%","v":89.1,"id":20},{"d":"80%","v":89.5,"id":17},{"d":"80%","v":91.0,"id":45},{"d":"80%","v":92.5,"id":30},{"d":"80%","v":94.3,"id":34},{"d":"80%","v":95.1,"id":35},{"d":"80%","v":97.9,"id":40},{"d":"80%","v":106.2,"id":5},{"d":"80%","v":107.7,"id":32},{"d":"80%","v":108.7,"id":8},{"d":"80%","v":110.1,"id":2},{"d":"80%","v":120.2,"id":29}
    ]
  },
  "columns": 10,
  "align": "each",
  "bounds": "flush",
  "spacing": 0,
  "concat": [
    {"width": 5, "height": 7, "view": {"fill": "white", "stroke": null}, "data": {"values": []}, "mark": "point"},
    {"width": 60, "height": 7, "view": {"fill": "white", "stroke": null}, "data": {"values": []}, "mark": "point"},
    {"width": 259, "height": 7, "view": {"fill": "white", "stroke": null}, "data": {"values": []}, "mark": "point"},
    {"width": 10, "height": 7, "view": {"fill": "white", "stroke": null}, "data": {"values": []}, "mark": "point"},
    {"width": 259, "height": 7, "view": {"fill": "white", "stroke": null}, "data": {"values": []}, "mark": "point"},
    {"width": 77, "height": 7, "view": {"fill": "white", "stroke": null}, "data": {"values": []}, "mark": "point"},
    {"width": 259, "height": 7, "view": {"fill": "white", "stroke": null}, "data": {"values": []}, "mark": "point"},
    {"width": 10, "height": 7, "view": {"fill": "white", "stroke": null}, "data": {"values": []}, "mark": "point"},
    {"width": 259, "height": 7, "view": {"fill": "white", "stroke": null}, "data": {"values": []}, "mark": "point"},
    {"width": 19, "height": 7, "view": {"fill": "white", "stroke": null}, "data": {"values": []}, "mark": "point"},

    {"width": 5, "height": 48, "view": {"fill": "white", "stroke": null}, "data": {"values": []}, "mark": "point"},
    {"width": 1, "height": 1, "data": {"values": []}, "mark": "point"},
    {"width": 1, "height": 1, "data": {"values": []}, "mark": "point"},
    {"width": 1, "height": 1, "data": {"values": []}, "mark": "point"},
    {"width": 1, "height": 1, "data": {"values": []}, "mark": "point"},
    {"width": 1, "height": 1, "data": {"values": []}, "mark": "point"},
    {"width": 1, "height": 1, "data": {"values": []}, "mark": "point"},
    {"width": 1, "height": 1, "data": {"values": []}, "mark": "point"},
    {"width": 1, "height": 1, "data": {"values": []}, "mark": "point"},
    {"width": 1, "height": 1, "data": {"values": []}, "mark": "point"},

    {"width": 5, "height": 20, "view": {"fill": "white", "stroke": null}, "data": {"values": []}, "mark": "point"},
    {"width": 1, "height": 1, "data": {"values": []}, "mark": "point"},
    {"width": 259, "height": 20, "title": {"text": "(E) Peak Knee Flexion vs Subject ID", "anchor": "middle", "frame": "group", "dx": 122.5, "offset": -4, "baseline": "alphabetic"}, "view": {"fill": "#D8E5EA", "stroke": null}, "data": {"values": [{"d": "20%"}]}, "mark": {"type": "text", "fontSize": 13, "color": "#111"}, "encoding": {"text": {"field": "d", "type": "nominal"}}},
    {"width": 1, "height": 1, "data": {"values": []}, "mark": "point"},
    {"width": 259, "height": 20, "view": {"fill": "#D8E5EA", "stroke": null}, "data": {"values": [{"d": "40%"}]}, "mark": {"type": "text", "fontSize": 13, "color": "#111"}, "encoding": {"text": {"field": "d", "type": "nominal"}}},
    {"width": 1, "height": 1, "data": {"values": []}, "mark": "point"},
    {"width": 259, "height": 20, "title": {"text": "(F) Peak Knee Abduction vs Subject ID", "anchor": "middle", "frame": "group", "dx": 122.5, "offset": -4, "baseline": "alphabetic"}, "view": {"fill": "#D8E5EA", "stroke": null}, "data": {"values": [{"d": "20%"}]}, "mark": {"type": "text", "fontSize": 13, "color": "#111"}, "encoding": {"text": {"field": "d", "type": "nominal"}}},
    {"width": 1, "height": 1, "data": {"values": []}, "mark": "point"},
    {"width": 259, "height": 20, "view": {"fill": "#D8E5EA", "stroke": null}, "data": {"values": [{"d": "40%"}]}, "mark": {"type": "text", "fontSize": 13, "color": "#111"}, "encoding": {"text": {"field": "d", "type": "nominal"}}},
    {"width": 1, "height": 1, "data": {"values": []}, "mark": "point"},

    {"width": 5, "height": 136, "view": {"fill": "white", "stroke": null}, "data": {"values": []}, "mark": "point"},
    {"width": 1, "height": 1, "data": {"values": []}, "mark": "point"},
    {"width": 259, "height": 136, "view": {"fill": "white", "stroke": null}, "data": {"name": "flex"}, "transform": [{"filter": "datum.d == '20%'"}],
     "mark": {"type": "point", "filled": true, "size": 40, "opacity": 1, "color": "#1a476f"},
     "encoding": {
       "x": {"field": "v", "type": "quantitative", "scale": {"domain": [57.9, 122], "nice": false, "zero": false}, "axis": null},
       "y": {"field": "id", "type": "quantitative", "scale": {"domain": [-4.2, 63.8], "nice": false, "zero": false}, "axis": {"values": [0, 20, 40, 60], "title": "Subject ID", "titleFontSize": 15, "titleAngle": 270, "titleX": -31.5, "titleY": 152.5, "titleAlign": "center", "titleBaseline": "alphabetic"}}
     }},
    {"width": 1, "height": 1, "data": {"values": []}, "mark": "point"},
    {"width": 259, "height": 136, "view": {"fill": "white", "stroke": null}, "data": {"name": "flex"}, "transform": [{"filter": "datum.d == '40%'"}],
     "mark": {"type": "point", "filled": true, "size": 40, "opacity": 1, "color": "#1a476f"},
     "encoding": {
       "x": {"field": "v", "type": "quantitative", "scale": {"domain": [57.9, 122], "nice": false, "zero": false}, "axis": null},
       "y": {"field": "id", "type": "quantitative", "scale": {"domain": [-4.2, 63.8], "nice": false, "zero": false}, "axis": {"values": [0, 20, 40, 60], "title": null, "labels": false, "ticks": false, "domain": false}}
     }},
    {"width": 1, "height": 1, "data": {"values": []}, "mark": "point"},
    {"width": 259, "height": 136, "view": {"fill": "white", "stroke": null}, "data": {"name": "abd"}, "transform": [{"filter": "datum.d == '20%'"}],
     "mark": {"type": "point", "filled": true, "size": 40, "opacity": 1, "color": "#1a476f"},
     "encoding": {
       "x": {"field": "v", "type": "quantitative", "scale": {"domain": [-13.2, 21.35], "nice": false, "zero": false}, "axis": null},
       "y": {"field": "id", "type": "quantitative", "scale": {"domain": [-4.2, 63.8], "nice": false, "zero": false}, "axis": {"values": [0, 20, 40, 60], "title": "Subject ID", "titleFontSize": 15, "titleAngle": 270, "titleX": -31.5, "titleY": 152.5, "titleAlign": "center", "titleBaseline": "alphabetic"}}
     }},
    {"width": 1, "height": 1, "data": {"values": []}, "mark": "point"},
    {"width": 259, "height": 136, "view": {"fill": "white", "stroke": null}, "data": {"name": "abd"}, "transform": [{"filter": "datum.d == '40%'"}],
     "mark": {"type": "point", "filled": true, "size": 40, "opacity": 1, "color": "#1a476f"},
     "encoding": {
       "x": {"field": "v", "type": "quantitative", "scale": {"domain": [-13.2, 21.35], "nice": false, "zero": false}, "axis": null},
       "y": {"field": "id", "type": "quantitative", "scale": {"domain": [-4.2, 63.8], "nice": false, "zero": false}, "axis": {"values": [0, 20, 40, 60], "title": null, "labels": false, "ticks": false, "domain": false}}
     }},
    {"width": 1, "height": 1, "data": {"values": []}, "mark": "point"},

    {"width": 5, "height": 9, "view": {"fill": "white", "stroke": null}, "data": {"values": []}, "mark": "point"},
    {"width": 1, "height": 1, "data": {"values": []}, "mark": "point"},
    {"width": 1, "height": 1, "data": {"values": []}, "mark": "point"},
    {"width": 1, "height": 1, "data": {"values": []}, "mark": "point"},
    {"width": 1, "height": 1, "data": {"values": []}, "mark": "point"},
    {"width": 1, "height": 1, "data": {"values": []}, "mark": "point"},
    {"width": 1, "height": 1, "data": {"values": []}, "mark": "point"},
    {"width": 1, "height": 1, "data": {"values": []}, "mark": "point"},
    {"width": 1, "height": 1, "data": {"values": []}, "mark": "point"},
    {"width": 1, "height": 1, "data": {"values": []}, "mark": "point"},

    {"width": 5, "height": 20, "view": {"fill": "white", "stroke": null}, "data": {"values": []}, "mark": "point"},
    {"width": 1, "height": 1, "data": {"values": []}, "mark": "point"},
    {"width": 259, "height": 20, "view": {"fill": "#D8E5EA", "stroke": null}, "data": {"values": [{"d": "60%"}]}, "mark": {"type": "text", "fontSize": 13, "color": "#111"}, "encoding": {"text": {"field": "d", "type": "nominal"}}},
    {"width": 1, "height": 1, "data": {"values": []}, "mark": "point"},
    {"width": 259, "height": 20, "view": {"fill": "#D8E5EA", "stroke": null}, "data": {"values": [{"d": "80%"}]}, "mark": {"type": "text", "fontSize": 13, "color": "#111"}, "encoding": {"text": {"field": "d", "type": "nominal"}}},
    {"width": 1, "height": 1, "data": {"values": []}, "mark": "point"},
    {"width": 259, "height": 20, "view": {"fill": "#D8E5EA", "stroke": null}, "data": {"values": [{"d": "60%"}]}, "mark": {"type": "text", "fontSize": 13, "color": "#111"}, "encoding": {"text": {"field": "d", "type": "nominal"}}},
    {"width": 1, "height": 1, "data": {"values": []}, "mark": "point"},
    {"width": 259, "height": 20, "view": {"fill": "#D8E5EA", "stroke": null}, "data": {"values": [{"d": "80%"}]}, "mark": {"type": "text", "fontSize": 13, "color": "#111"}, "encoding": {"text": {"field": "d", "type": "nominal"}}},
    {"width": 1, "height": 1, "data": {"values": []}, "mark": "point"},

    {"width": 5, "height": 136, "view": {"fill": "white", "stroke": null}, "data": {"values": []}, "mark": "point"},
    {"width": 1, "height": 1, "data": {"values": []}, "mark": "point"},
    {"width": 259, "height": 136, "view": {"fill": "white", "stroke": null}, "data": {"name": "flex"}, "transform": [{"filter": "datum.d == '60%'"}],
     "mark": {"type": "point", "filled": true, "size": 40, "opacity": 1, "color": "#1a476f"},
     "encoding": {
       "x": {"field": "v", "type": "quantitative", "scale": {"domain": [57.9, 122], "nice": false, "zero": false}, "axis": {"values": [60, 80, 100, 120], "title": "Maximum Knee Flexion (Degrees)", "titleFontSize": 15, "titleX": 251, "titleY": 41, "titleAlign": "center", "titleBaseline": "alphabetic"}},
       "y": {"field": "id", "type": "quantitative", "scale": {"domain": [-4.2, 63.8], "nice": false, "zero": false}, "axis": {"values": [0, 20, 40, 60], "title": null}}
     }},
    {"width": 1, "height": 1, "data": {"values": []}, "mark": "point"},
    {"width": 259, "height": 136, "view": {"fill": "white", "stroke": null}, "data": {"name": "flex"}, "transform": [{"filter": "datum.d == '80%'"}],
     "mark": {"type": "point", "filled": true, "size": 40, "opacity": 1, "color": "#1a476f"},
     "encoding": {
       "x": {"field": "v", "type": "quantitative", "scale": {"domain": [57.9, 122], "nice": false, "zero": false}, "axis": {"values": [60, 80, 100, 120], "title": "Graphs by Jump Distance", "titleFontSize": 12, "titleX": -294.7, "titleY": 57, "titleAlign": "left", "titleBaseline": "alphabetic"}},
       "y": {"field": "id", "type": "quantitative", "scale": {"domain": [-4.2, 63.8], "nice": false, "zero": false}, "axis": {"values": [0, 20, 40, 60], "title": null, "labels": false, "ticks": false, "domain": false}}
     }},
    {"width": 1, "height": 1, "data": {"values": []}, "mark": "point"},
    {"width": 259, "height": 136, "view": {"fill": "white", "stroke": null}, "data": {"name": "abd"}, "transform": [{"filter": "datum.d == '60%'"}],
     "mark": {"type": "point", "filled": true, "size": 40, "opacity": 1, "color": "#1a476f"},
     "encoding": {
       "x": {"field": "v", "type": "quantitative", "scale": {"domain": [-13.2, 21.35], "nice": false, "zero": false}, "axis": {"values": [-10, 0, 10, 20], "title": "Peak Knee Abduction (Degrees)", "titleFontSize": 15, "titleX": 250, "titleY": 41, "titleAlign": "center", "titleBaseline": "alphabetic"}},
       "y": {"field": "id", "type": "quantitative", "scale": {"domain": [-4.2, 63.8], "nice": false, "zero": false}, "axis": {"values": [0, 20, 40, 60], "title": null}}
     }},
    {"width": 1, "height": 1, "data": {"values": []}, "mark": "point"},
    {"width": 259, "height": 136, "view": {"fill": "white", "stroke": null}, "data": {"name": "abd"}, "transform": [{"filter": "datum.d == '80%'"}],
     "mark": {"type": "point", "filled": true, "size": 40, "opacity": 1, "color": "#1a476f"},
     "encoding": {
       "x": {"field": "v", "type": "quantitative", "scale": {"domain": [-13.2, 21.35], "nice": false, "zero": false}, "axis": {"values": [-10, 0, 10, 20], "title": "Graphs by Jump Distance", "titleFontSize": 12, "titleX": -294.7, "titleY": 57, "titleAlign": "left", "titleBaseline": "alphabetic"}},
       "y": {"field": "id", "type": "quantitative", "scale": {"domain": [-4.2, 63.8], "nice": false, "zero": false}, "axis": {"values": [0, 20, 40, 60], "title": null, "labels": false, "ticks": false, "domain": false}}
     }},
    {"width": 1, "height": 1, "data": {"values": []}, "mark": "point"},

    {"width": 5, "height": 74, "view": {"fill": "white", "stroke": null}, "data": {"values": []}, "mark": "point"},
    {"width": 1, "height": 1, "data": {"values": []}, "mark": "point"},
    {"width": 1, "height": 1, "data": {"values": []}, "mark": "point"},
    {"width": 1, "height": 1, "data": {"values": []}, "mark": "point"},
    {"width": 1, "height": 1, "data": {"values": []}, "mark": "point"},
    {"width": 1, "height": 1, "data": {"values": []}, "mark": "point"},
    {"width": 1, "height": 1, "data": {"values": []}, "mark": "point"},
    {"width": 1, "height": 1, "data": {"values": []}, "mark": "point"},
    {"width": 1, "height": 1, "data": {"values": []}, "mark": "point"},
    {"width": 1, "height": 1, "data": {"values": []}, "mark": "point"},

    {"width": 5, "height": 37, "view": {"fill": "white", "stroke": null}, "data": {"values": []}, "mark": "point"},
    {"width": 60, "height": 37, "view": {"fill": "white", "stroke": null}, "data": {"values": []}, "mark": "point"},
    {"width": 259, "height": 37, "view": {"fill": "white", "stroke": null}, "data": {"values": []}, "mark": "point"},
    {"width": 10, "height": 37, "view": {"fill": "white", "stroke": null}, "data": {"values": []}, "mark": "point"},
    {"width": 259, "height": 37, "view": {"fill": "white", "stroke": null}, "data": {"values": []}, "mark": "point"},
    {"width": 77, "height": 37, "view": {"fill": "white", "stroke": null}, "data": {"values": []}, "mark": "point"},
    {"width": 259, "height": 37, "view": {"fill": "white", "stroke": null}, "data": {"values": []}, "mark": "point"},
    {"width": 10, "height": 37, "view": {"fill": "white", "stroke": null}, "data": {"values": []}, "mark": "point"},
    {"width": 259, "height": 37, "view": {"fill": "white", "stroke": null}, "data": {"values": []}, "mark": "point"},
    {"width": 19, "height": 37, "view": {"fill": "white", "stroke": null}, "data": {"values": []}, "mark": "point"},

    {"width": 5, "height": 48, "view": {"fill": "white", "stroke": null}, "data": {"values": []}, "mark": "point"},
    {"width": 1, "height": 1, "data": {"values": []}, "mark": "point"},
    {"width": 1, "height": 1, "data": {"values": []}, "mark": "point"},
    {"width": 1, "height": 1, "data": {"values": []}, "mark": "point"},
    {"width": 1, "height": 1, "data": {"values": []}, "mark": "point"},
    {"width": 1, "height": 1, "data": {"values": []}, "mark": "point"},
    {"width": 1, "height": 1, "data": {"values": []}, "mark": "point"},
    {"width": 1, "height": 1, "data": {"values": []}, "mark": "point"},
    {"width": 1, "height": 1, "data": {"values": []}, "mark": "point"},
    {"width": 1, "height": 1, "data": {"values": []}, "mark": "point"},

    {"width": 5, "height": 20, "view": {"fill": "white", "stroke": null}, "data": {"values": []}, "mark": "point"},
    {"width": 1, "height": 1, "data": {"values": []}, "mark": "point"},
    {"width": 259, "height": 20, "title": {"text": "(G) Peak Knee Abduction Moment vs Subject ID", "anchor": "middle", "frame": "group", "dx": 122.5, "offset": -4, "baseline": "alphabetic"}, "view": {"fill": "#D8E5EA", "stroke": null}, "data": {"values": [{"d": "20%"}]}, "mark": {"type": "text", "fontSize": 13, "color": "#111"}, "encoding": {"text": {"field": "d", "type": "nominal"}}},
    {"width": 1, "height": 1, "data": {"values": []}, "mark": "point"},
    {"width": 259, "height": 20, "view": {"fill": "#D8E5EA", "stroke": null}, "data": {"values": [{"d": "40%"}]}, "mark": {"type": "text", "fontSize": 13, "color": "#111"}, "encoding": {"text": {"field": "d", "type": "nominal"}}},
    {"width": 1, "height": 1, "data": {"values": []}, "mark": "point"},
    {"width": 259, "height": 20, "title": {"text": "(H) Peak PATSF vs Subject ID", "anchor": "middle", "frame": "group", "dx": 122.5, "offset": -4, "baseline": "alphabetic"}, "view": {"fill": "#D8E5EA", "stroke": null}, "data": {"values": [{"d": "20%"}]}, "mark": {"type": "text", "fontSize": 13, "color": "#111"}, "encoding": {"text": {"field": "d", "type": "nominal"}}},
    {"width": 1, "height": 1, "data": {"values": []}, "mark": "point"},
    {"width": 259, "height": 20, "view": {"fill": "#D8E5EA", "stroke": null}, "data": {"values": [{"d": "40%"}]}, "mark": {"type": "text", "fontSize": 13, "color": "#111"}, "encoding": {"text": {"field": "d", "type": "nominal"}}},
    {"width": 1, "height": 1, "data": {"values": []}, "mark": "point"},

    {"width": 5, "height": 136, "view": {"fill": "white", "stroke": null}, "data": {"values": []}, "mark": "point"},
    {"width": 1, "height": 1, "data": {"values": []}, "mark": "point"},
    {"width": 259, "height": 136, "view": {"fill": "white", "stroke": null}, "data": {"name": "mom"}, "transform": [{"filter": "datum.d == '20%'"}],
     "mark": {"type": "point", "filled": true, "size": 40, "opacity": 1, "color": "#1a476f"},
     "encoding": {
       "x": {"field": "v", "type": "quantitative", "scale": {"domain": [-0.21, 6.21], "nice": false, "zero": false}, "axis": null},
       "y": {"field": "id", "type": "quantitative", "scale": {"domain": [-4.2, 63.8], "nice": false, "zero": false}, "axis": {"values": [0, 20, 40, 60], "title": "Subject ID", "titleFontSize": 15, "titleAngle": 270, "titleX": -31.5, "titleY": 152.5, "titleAlign": "center", "titleBaseline": "alphabetic"}}
     }},
    {"width": 1, "height": 1, "data": {"values": []}, "mark": "point"},
    {"width": 259, "height": 136, "view": {"fill": "white", "stroke": null}, "data": {"name": "mom"}, "transform": [{"filter": "datum.d == '40%'"}],
     "mark": {"type": "point", "filled": true, "size": 40, "opacity": 1, "color": "#1a476f"},
     "encoding": {
       "x": {"field": "v", "type": "quantitative", "scale": {"domain": [-0.21, 6.21], "nice": false, "zero": false}, "axis": null},
       "y": {"field": "id", "type": "quantitative", "scale": {"domain": [-4.2, 63.8], "nice": false, "zero": false}, "axis": {"values": [0, 20, 40, 60], "title": null, "labels": false, "ticks": false, "domain": false}}
     }},
    {"width": 1, "height": 1, "data": {"values": []}, "mark": "point"},
    {"width": 259, "height": 136, "view": {"fill": "white", "stroke": null}, "data": {"name": "patsf"}, "transform": [{"filter": "datum.d == '20%'"}],
     "mark": {"type": "point", "filled": true, "size": 40, "opacity": 1, "color": "#1a476f"},
     "encoding": {
       "x": {"field": "v", "type": "quantitative", "scale": {"domain": [27, 155.3], "nice": false, "zero": false}, "axis": null},
       "y": {"field": "id", "type": "quantitative", "scale": {"domain": [-4.2, 63.8], "nice": false, "zero": false}, "axis": {"values": [0, 20, 40, 60], "title": "Subject ID", "titleFontSize": 15, "titleAngle": 270, "titleX": -31.5, "titleY": 152.5, "titleAlign": "center", "titleBaseline": "alphabetic"}}
     }},
    {"width": 1, "height": 1, "data": {"values": []}, "mark": "point"},
    {"width": 259, "height": 136, "view": {"fill": "white", "stroke": null}, "data": {"name": "patsf"}, "transform": [{"filter": "datum.d == '40%'"}],
     "mark": {"type": "point", "filled": true, "size": 40, "opacity": 1, "color": "#1a476f"},
     "encoding": {
       "x": {"field": "v", "type": "quantitative", "scale": {"domain": [27, 155.3], "nice": false, "zero": false}, "axis": null},
       "y": {"field": "id", "type": "quantitative", "scale": {"domain": [-4.2, 63.8], "nice": false, "zero": false}, "axis": {"values": [0, 20, 40, 60], "title": null, "labels": false, "ticks": false, "domain": false}}
     }},
    {"width": 1, "height": 1, "data": {"values": []}, "mark": "point"},

    {"width": 5, "height": 9, "view": {"fill": "white", "stroke": null}, "data": {"values": []}, "mark": "point"},
    {"width": 1, "height": 1, "data": {"values": []}, "mark": "point"},
    {"width": 1, "height": 1, "data": {"values": []}, "mark": "point"},
    {"width": 1, "height": 1, "data": {"values": []}, "mark": "point"},
    {"width": 1, "height": 1, "data": {"values": []}, "mark": "point"},
    {"width": 1, "height": 1, "data": {"values": []}, "mark": "point"},
    {"width": 1, "height": 1, "data": {"values": []}, "mark": "point"},
    {"width": 1, "height": 1, "data": {"values": []}, "mark": "point"},
    {"width": 1, "height": 1, "data": {"values": []}, "mark": "point"},
    {"width": 1, "height": 1, "data": {"values": []}, "mark": "point"},

    {"width": 5, "height": 20, "view": {"fill": "white", "stroke": null}, "data": {"values": []}, "mark": "point"},
    {"width": 1, "height": 1, "data": {"values": []}, "mark": "point"},
    {"width": 259, "height": 20, "view": {"fill": "#D8E5EA", "stroke": null}, "data": {"values": [{"d": "60%"}]}, "mark": {"type": "text", "fontSize": 13, "color": "#111"}, "encoding": {"text": {"field": "d", "type": "nominal"}}},
    {"width": 1, "height": 1, "data": {"values": []}, "mark": "point"},
    {"width": 259, "height": 20, "view": {"fill": "#D8E5EA", "stroke": null}, "data": {"values": [{"d": "80%"}]}, "mark": {"type": "text", "fontSize": 13, "color": "#111"}, "encoding": {"text": {"field": "d", "type": "nominal"}}},
    {"width": 1, "height": 1, "data": {"values": []}, "mark": "point"},
    {"width": 259, "height": 20, "view": {"fill": "#D8E5EA", "stroke": null}, "data": {"values": [{"d": "60%"}]}, "mark": {"type": "text", "fontSize": 13, "color": "#111"}, "encoding": {"text": {"field": "d", "type": "nominal"}}},
    {"width": 1, "height": 1, "data": {"values": []}, "mark": "point"},
    {"width": 259, "height": 20, "view": {"fill": "#D8E5EA", "stroke": null}, "data": {"values": [{"d": "80%"}]}, "mark": {"type": "text", "fontSize": 13, "color": "#111"}, "encoding": {"text": {"field": "d", "type": "nominal"}}},
    {"width": 1, "height": 1, "data": {"values": []}, "mark": "point"},

    {"width": 5, "height": 136, "view": {"fill": "white", "stroke": null}, "data": {"values": []}, "mark": "point"},
    {"width": 1, "height": 1, "data": {"values": []}, "mark": "point"},
    {"width": 259, "height": 136, "view": {"fill": "white", "stroke": null}, "data": {"name": "mom"}, "transform": [{"filter": "datum.d == '60%'"}],
     "mark": {"type": "point", "filled": true, "size": 40, "opacity": 1, "color": "#1a476f"},
     "encoding": {
       "x": {"field": "v", "type": "quantitative", "scale": {"domain": [-0.21, 6.21], "nice": false, "zero": false}, "axis": {"values": [0, 2, 4, 6], "title": "Peak Knee Abduction Moment (Nm/kg*m)", "titleFontSize": 15, "titleX": 251, "titleY": 41, "titleAlign": "center", "titleBaseline": "alphabetic"}},
       "y": {"field": "id", "type": "quantitative", "scale": {"domain": [-4.2, 63.8], "nice": false, "zero": false}, "axis": {"values": [0, 20, 40, 60], "title": null}}
     }},
    {"width": 1, "height": 1, "data": {"values": []}, "mark": "point"},
    {"width": 259, "height": 136, "view": {"fill": "white", "stroke": null}, "data": {"name": "mom"}, "transform": [{"filter": "datum.d == '80%'"}],
     "mark": {"type": "point", "filled": true, "size": 40, "opacity": 1, "color": "#1a476f"},
     "encoding": {
       "x": {"field": "v", "type": "quantitative", "scale": {"domain": [-0.21, 6.21], "nice": false, "zero": false}, "axis": {"values": [0, 2, 4, 6], "title": "Graphs by Jump Distance", "titleFontSize": 12, "titleX": -294.7, "titleY": 57, "titleAlign": "left", "titleBaseline": "alphabetic"}},
       "y": {"field": "id", "type": "quantitative", "scale": {"domain": [-4.2, 63.8], "nice": false, "zero": false}, "axis": {"values": [0, 20, 40, 60], "title": null, "labels": false, "ticks": false, "domain": false}}
     }},
    {"width": 1, "height": 1, "data": {"values": []}, "mark": "point"},
    {"width": 259, "height": 136, "view": {"fill": "white", "stroke": null}, "data": {"name": "patsf"}, "transform": [{"filter": "datum.d == '60%'"}],
     "mark": {"type": "point", "filled": true, "size": 40, "opacity": 1, "color": "#1a476f"},
     "encoding": {
       "x": {"field": "v", "type": "quantitative", "scale": {"domain": [27, 155.3], "nice": false, "zero": false}, "axis": {"values": [50, 100, 150], "title": "Peak PATSF (% Body Weight)", "titleFontSize": 15, "titleX": 252, "titleY": 41, "titleAlign": "center", "titleBaseline": "alphabetic"}},
       "y": {"field": "id", "type": "quantitative", "scale": {"domain": [-4.2, 63.8], "nice": false, "zero": false}, "axis": {"values": [0, 20, 40, 60], "title": null}}
     }},
    {"width": 1, "height": 1, "data": {"values": []}, "mark": "point"},
    {"width": 259, "height": 136, "view": {"fill": "white", "stroke": null}, "data": {"name": "patsf"}, "transform": [{"filter": "datum.d == '80%'"}],
     "mark": {"type": "point", "filled": true, "size": 40, "opacity": 1, "color": "#1a476f"},
     "encoding": {
       "x": {"field": "v", "type": "quantitative", "scale": {"domain": [27, 155.3], "nice": false, "zero": false}, "axis": {"values": [50, 100, 150], "title": "Graphs by Jump Distance", "titleFontSize": 12, "titleX": -294.7, "titleY": 57, "titleAlign": "left", "titleBaseline": "alphabetic"}},
       "y": {"field": "id", "type": "quantitative", "scale": {"domain": [-4.2, 63.8], "nice": false, "zero": false}, "axis": {"values": [0, 20, 40, 60], "title": null, "labels": false, "ticks": false, "domain": false}}
     }},
    {"width": 1, "height": 1, "data": {"values": []}, "mark": "point"},

    {"width": 5, "height": 70, "view": {"fill": "white", "stroke": null}, "data": {"values": []}, "mark": "point"},
    {"width": 1, "height": 1, "data": {"values": []}, "mark": "point"},
    {"width": 1, "height": 1, "data": {"values": []}, "mark": "point"},
    {"width": 1, "height": 1, "data": {"values": []}, "mark": "point"},
    {"width": 1, "height": 1, "data": {"values": []}, "mark": "point"},
    {"width": 1, "height": 1, "data": {"values": []}, "mark": "point"},
    {"width": 1, "height": 1, "data": {"values": []}, "mark": "point"},
    {"width": 1, "height": 1, "data": {"values": []}, "mark": "point"},
    {"width": 1, "height": 1, "data": {"values": []}, "mark": "point"},
    {"width": 1, "height": 1, "data": {"values": []}, "mark": "point"}
  ]
}
